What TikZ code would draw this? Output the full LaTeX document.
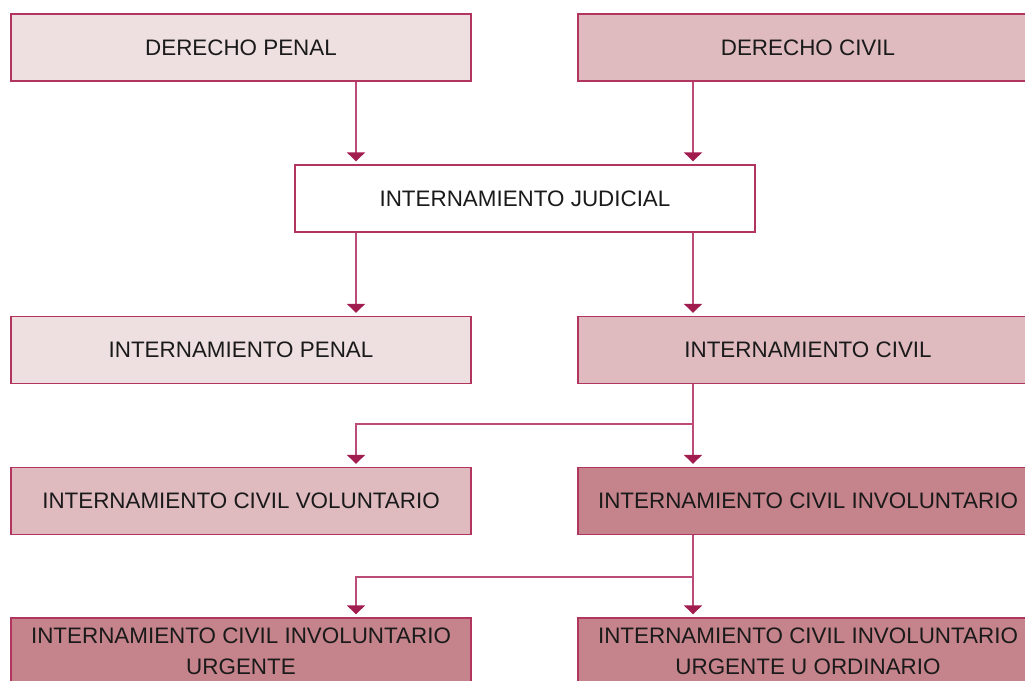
\documentclass[tikz,border=0pt]{standalone}
\usepackage{fontspec}
\setmainfont{Liberation Sans}
\usetikzlibrary{arrows.meta}
\definecolor{fillA}{HTML}{EEDFE1}
\definecolor{fillB}{HTML}{DFBBC0}
\definecolor{fillC}{HTML}{C5838B}
\definecolor{edge}{HTML}{B23560}
\definecolor{lineC}{HTML}{BA4C77}
\definecolor{tipC}{HTML}{A21D4F}
\definecolor{txt}{HTML}{1A1A1A}
\tikzset{
  box/.style={draw=edge, line width=1.2pt, minimum width=460pt, minimum height=67pt,
    inner sep=0pt, align=center, text=txt, font=\fontsize{22.4}{31}\selectfont},
  boxA/.style={box, fill=fillA},
  boxB/.style={box, fill=fillB},
  boxC/.style={box, fill=fillC},
  boxW/.style={box, fill=white},
  conn/.style={draw=lineC, line width=1.4pt},
  arr/.style={conn, -{Triangle[width=18pt,length=9pt,fill=tipC,color=tipC]}, shorten >=3pt},
}
\begin{document}
\begin{tikzpicture}[x=1pt,y=-1pt]
\useasboundingbox (0,0) rectangle (1025,680);
\clip (0,0) rectangle (1025,680);
\fill[white] (0,0) rectangle (1025,680);
\coordinate (ca) at (356,0);
\coordinate (cb) at (693,0);
\node[boxA] (dp) at (241,47.5) {DERECHO PENAL};
\node[boxB] (dc) at (808,47.5) {DERECHO CIVIL};
\node[boxW] (ij) at (525,198.5) {INTERNAMIENTO JUDICIAL};
\node[boxA] (ip) at (241,350) {INTERNAMIENTO PENAL};
\node[boxB] (ic) at (808,350) {INTERNAMIENTO CIVIL};
\node[boxB] (icv) at (241,501) {INTERNAMIENTO CIVIL VOLUNTARIO};
\node[boxC] (ici) at (808,501) {INTERNAMIENTO CIVIL INVOLUNTARIO};
\node[boxC] (icu) at (241,651.5) {INTERNAMIENTO CIVIL INVOLUNTARIO\\URGENTE};
\node[boxC] (ico) at (808,651.5) {INTERNAMIENTO CIVIL INVOLUNTARIO\\URGENTE U ORDINARIO};
\coordinate (b1) at (356,424);
\coordinate (b2) at (356,577);
\draw[arr] (dp.south -| ca) -- (ij.north -| ca);
\draw[arr] (dc.south -| cb) -- (ij.north -| cb);
\draw[arr] (ij.south -| ca) -- (ip.north -| ca);
\draw[arr] (ij.south -| cb) -- (ic.north -| cb);
\draw[arr] (ic.south -| cb) -- (ici.north -| cb);
\draw[arr] (b1 -| cb) -- (b1) -- (icv.north -| ca);
\draw[arr] (ici.south -| cb) -- (ico.north -| cb);
\draw[arr] (b2 -| cb) -- (b2) -- (icu.north -| ca);
\end{tikzpicture}
\end{document}
